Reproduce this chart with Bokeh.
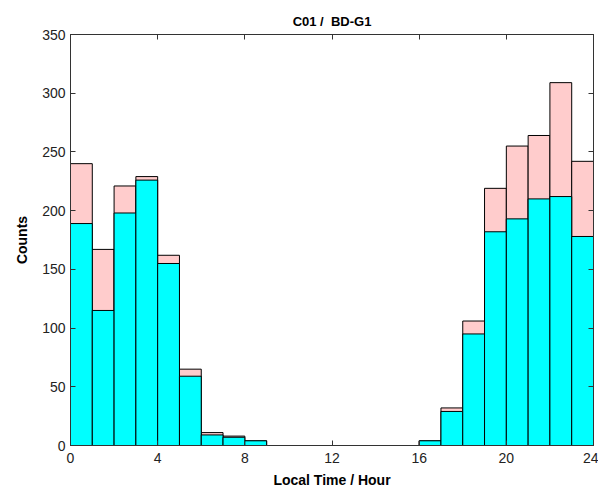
from bokeh.plotting import figure
from bokeh.models import LinearAxis, FixedTicker, Range1d, ColumnDataSource
from bokeh.embed import file_html
from bokeh.resources import INLINE

hours = list(range(24))
total = [240, 167, 221, 229, 162, 65, 11, 8, 4, 0, 0, 0, 0, 0, 0, 0, 4, 32, 106, 219, 255, 264, 309, 242]
cyan = [189, 115, 198, 226, 155, 59, 9, 7, 4, 0, 0, 0, 0, 0, 0, 0, 4, 29, 95, 182, 193, 210, 212, 178]
xticks = [0, 4, 8, 12, 16, 20, 24]
yticks = [0, 50, 100, 150, 200, 250, 300, 350]

centers = [h + 0.5 for h in hours]
src_t = ColumnDataSource(dict(x=[c for c, t in zip(centers, total) if t > 0], top=[t for t in total if t > 0]))
src_c = ColumnDataSource(dict(x=[c for c, v in zip(centers, cyan) if v > 0], top=[v for v in cyan if v > 0]))

FONT = "Liberation Sans"

p = figure(width=598, height=490, output_backend="svg", toolbar_location=None,
           x_range=Range1d(0, 24), y_range=Range1d(0, 350),
           title="C01 /\u00a0\u00a0BD-G1", min_border_left=70, min_border_right=5,
           min_border_top=34, min_border_bottom=44)
p.title.text_font = FONT
p.title.text_font_style = "bold"
p.title.text_font_size = "13px"
p.title.text_color = "black"
p.title.align = "center"
p.title.offset = 0
p.title.standoff = 12

p.vbar(x="x", top="top", bottom=0, width=1, source=src_t,
       fill_color="#ffcccc", line_color="black", line_width=1)
p.vbar(x="x", top="top", bottom=0, width=1, source=src_c,
       fill_color="#00ffff", line_color="black", line_width=1)

p.grid.visible = False
p.outline_line_color = "#333333"
p.outline_line_width = 1

for ax in (p.xaxis[0], p.yaxis[0]):
    ax.major_tick_in = 5
    ax.major_tick_out = 0
    ax.minor_tick_line_color = None
    ax.axis_line_color = "#333333"
    ax.major_tick_line_color = "#333333"
    ax.major_label_text_font = FONT
    ax.major_label_text_font_size = "14px"
    ax.major_label_text_color = "#222222"
    ax.axis_label_text_font = FONT
    ax.axis_label_text_font_style = "bold"
    ax.axis_label_text_font_size = "14px"
    ax.axis_label_text_color = "black"

p.xaxis[0].ticker = FixedTicker(ticks=xticks)
p.yaxis[0].ticker = FixedTicker(ticks=yticks)
p.xaxis[0].axis_label = "Local Time / Hour"
p.yaxis[0].axis_label = "Counts"
p.xaxis[0].major_label_standoff = 7
p.yaxis[0].major_label_standoff = 5
p.xaxis[0].axis_label_standoff = 6
p.yaxis[0].axis_label_standoff = 9

top_ax = LinearAxis(ticker=FixedTicker(ticks=xticks), major_tick_in=5, major_tick_out=0,
                    minor_tick_line_color=None, major_label_text_font_size="0px",
                    axis_line_color="#333333", major_tick_line_color="#333333")
right_ax = LinearAxis(ticker=FixedTicker(ticks=yticks), major_tick_in=5, major_tick_out=0,
                      minor_tick_line_color=None, major_label_text_font_size="0px",
                      axis_line_color="#333333", major_tick_line_color="#333333")
top_ax.major_label_text_color = None
right_ax.major_label_text_color = None
p.add_layout(top_ax, "above")
p.add_layout(right_ax, "right")

open("out.html", "w").write(file_html(p, INLINE))
